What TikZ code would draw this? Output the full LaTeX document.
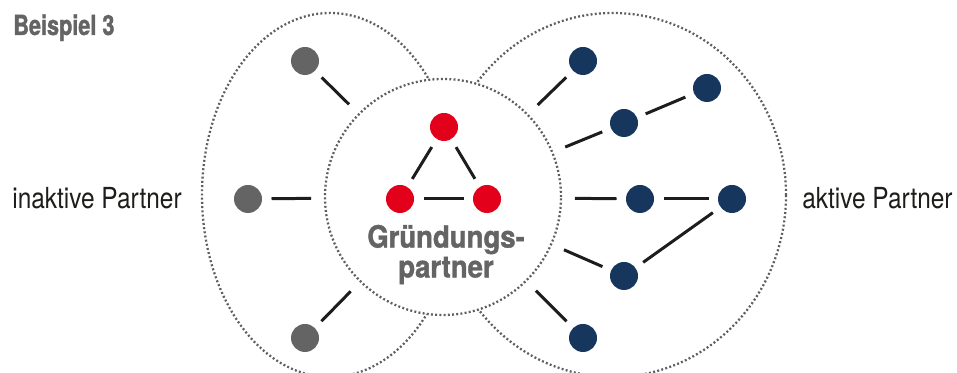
\documentclass[tikz,border=0pt]{standalone}
\usepackage{fontspec}
\setmainfont{TeX Gyre Heros}[FakeStretch=0.843]
\newfontfamily\titlefont{TeX Gyre Heros}[FakeStretch=0.78, FakeBold=1.2]
\newfontfamily\corefont{TeX Gyre Heros}[FakeStretch=0.9, FakeBold=1.2]

\definecolor{dotgray}{HTML}{5E5E5E}
\definecolor{nodegray}{HTML}{646464}
\definecolor{foundred}{HTML}{E2001A}
\definecolor{activeblue}{HTML}{17365E}
\definecolor{inkblack}{HTML}{1D1D1B}

\begin{document}
\begin{tikzpicture}[
        dotline/.style={draw=dotgray, line width=1.3pt, dash pattern=on 1.1pt off 1.3pt},
        partner/.style={circle, inner sep=0pt, minimum size=0.56cm, outer sep=0.19cm},
        inactive/.style={partner, fill=nodegray},
        founder/.style={partner, fill=foundred},
        active/.style={partner, fill=activeblue},
        link/.style={draw=inkblack, line width=1.7pt},
        sidelabel/.style={text=inkblack, font=\fontsize{16.5}{18}\selectfont, inner sep=0pt}
    ]

            % the frame
            \path[clip] (0, 0) rectangle (19.14, 7.46);

            % the two groups
            \draw[dotline] (6.6, 3.56) ellipse (2.56 and 3.64);
            \draw[dotline] (12.26, 3.56) ellipse (3.46 and 3.64);

            % the core
            \node[circle, dotline, fill=white, minimum size=4.72cm, outer sep=0.28cm] (core) at (8.86, 3.52) {};

            % founders
            \node[founder] (r1) at (8.88, 4.92) {};
            \node[founder] (r2) at (8.0, 3.48) {};
            \node[founder] (r3) at (9.74, 3.48) {};
            \draw[link] (r1) -- (r2);
            \draw[link] (r1) -- (r3);
            \draw[link] (r2) -- (r3);

            % inactive partners
            \foreach \n/\x/\y in {g1/6.1/6.24, g2/4.96/3.48, g3/6.1/0.7} {
                \node[inactive] (\n) at (\x, \y) {};
            }

            % active partners
            \foreach \n/\x/\y in {b1/11.66/6.24, b2/12.48/5.0, b3/14.14/5.7, b4/12.8/3.48,
                                  b5/14.64/3.48, b6/12.48/1.94, b7/11.66/0.7} {
                \node[active] (\n) at (\x, \y) {};
            }

            % links to the core
            \foreach \n in {g1, g2, g3, b1, b2, b4, b6, b7} {
                \draw[link] (\n) -- (core);
            }
            \draw[link] (b2) -- (b3);
            \draw[link] (b4) -- (b5);
            \draw[link] (b6) -- (b5);

            % labels
            \node[anchor=base west, inner sep=0pt, text=nodegray, font=\titlefont\bfseries\fontsize{15.8}{17}\selectfont]
                (title) at (0.26, 6.76) {Beispiel 3};
            \node[sidelabel, anchor=base west] (inlabel) at (0.24, 3.28) {inaktive Partner};
            \node[sidelabel, anchor=base east] (aclabel) at (19.06, 3.28) {aktive Partner};
            \node[align=center, inner sep=0pt, text=nodegray, font=\corefont\bfseries\fontsize{17.4}{17}\selectfont]
                (corelabel) at (8.92, 2.37) {Gründungs-\\partner};

        \end{tikzpicture}
\end{document}
